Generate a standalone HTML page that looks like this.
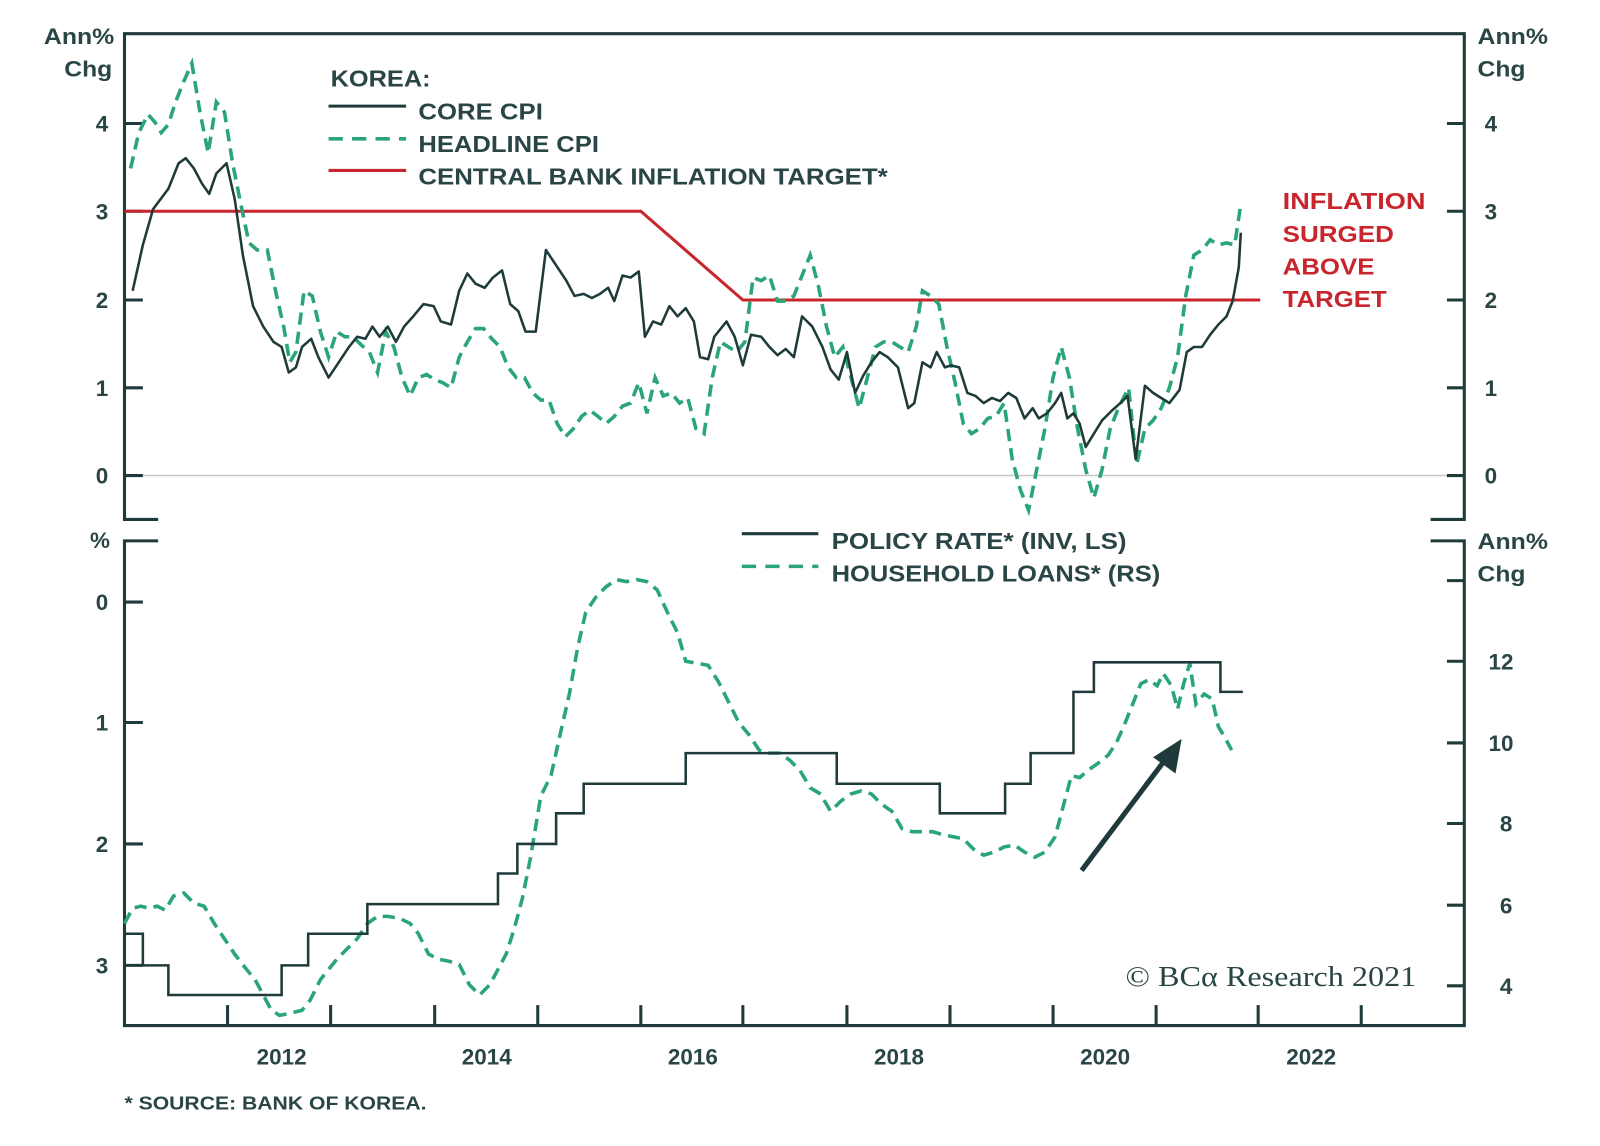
<!DOCTYPE html>
<html><head><meta charset="utf-8"><style>
html,body{margin:0;padding:0;background:#fff;}
svg{display:block;}
text{font-family:"Liberation Sans",sans-serif;font-weight:bold;fill:#2a4545;}
</style></head><body>
<svg width="1600" height="1146" viewBox="0 0 1568 1123" preserveAspectRatio="none" xmlns="http://www.w3.org/2000/svg">
<rect width="1568" height="1123" fill="#fff"/>
<line x1="122" y1="466" x2="1435" y2="466" stroke="#c8c8c8" stroke-width="1.5"/>
<g stroke="#1f3a3a" stroke-width="3" fill="none">
<polyline points="155,509 122,509 122,33 1435,33 1435,509 1402,509"/>
<polyline points="155,530 122,530 122,1005 1435,1005 1435,530 1402,530"/>
<path d="M122 121h18M122 207h18M122 294h18M122 380h18M122 466h18M1418 121h17M1418 207h17M1418 294h17M1418 380h17M1418 466h17"/>
<path d="M122 590h18M122 708h18M122 827h18M122 946h18M1418 569h17M1418 648h17M1418 728h17M1418 807h17M1418 887h17M1418 966h17"/>
<path d="M223 1005v-20M324 1005v-20M426 1005v-20M527 1005v-20M628 1005v-20M728 1005v-20M830 1005v-20M931 1005v-20M1032 1005v-20M1133 1005v-20M1233 1005v-20M1334 1005v-20"/>
</g>
<g font-size="22">
<text x="43" y="43" textLength="69" lengthAdjust="spacingAndGlyphs">Ann%</text><text x="63" y="75" textLength="47" lengthAdjust="spacingAndGlyphs">Chg</text>
<text x="1448" y="43" textLength="69" lengthAdjust="spacingAndGlyphs">Ann%</text><text x="1448" y="75" textLength="47" lengthAdjust="spacingAndGlyphs">Chg</text>
<text x="1448" y="538" textLength="69" lengthAdjust="spacingAndGlyphs">Ann%</text><text x="1448" y="570" textLength="47" lengthAdjust="spacingAndGlyphs">Chg</text>
<text x="98" y="537" text-anchor="middle">%</text>
<g text-anchor="middle">
<text x="100" y="129">4</text><text x="100" y="215">3</text><text x="100" y="302">2</text><text x="100" y="388">1</text><text x="100" y="474">0</text>
<text x="1461" y="129">4</text><text x="1461" y="215">3</text><text x="1461" y="302">2</text><text x="1461" y="388">1</text><text x="1461" y="474">0</text>
<text x="100" y="598">0</text><text x="100" y="716">1</text><text x="100" y="835">2</text><text x="100" y="954">3</text>
<text x="1471" y="656">12</text><text x="1471" y="736">10</text><text x="1476" y="815">8</text><text x="1476" y="895">6</text><text x="1476" y="974">4</text>
<text x="276" y="1043">2012</text><text x="477" y="1043">2014</text><text x="679" y="1043">2016</text><text x="881" y="1043">2018</text><text x="1083" y="1043">2020</text><text x="1285" y="1043">2022</text>
</g>
</g>
<g font-size="23" lengthAdjust="spacingAndGlyphs">
<text x="324" y="85" textLength="98" lengthAdjust="spacingAndGlyphs">KOREA:</text>
<text x="410" y="117" textLength="122" lengthAdjust="spacingAndGlyphs">CORE CPI</text>
<text x="410" y="149" textLength="177" lengthAdjust="spacingAndGlyphs">HEADLINE CPI</text>
<text x="410" y="181" textLength="460" lengthAdjust="spacingAndGlyphs">CENTRAL BANK INFLATION TARGET*</text>
<text x="815" y="538" textLength="289" lengthAdjust="spacingAndGlyphs">POLICY RATE* (INV, LS)</text>
<text x="815" y="570" textLength="322" lengthAdjust="spacingAndGlyphs">HOUSEHOLD LOANS* (RS)</text>
<text x="1257" y="205" textLength="140" lengthAdjust="spacingAndGlyphs" style="fill:#c8252d">INFLATION</text>
<text x="1257" y="237" textLength="109" lengthAdjust="spacingAndGlyphs" style="fill:#c8252d">SURGED</text>
<text x="1257" y="269" textLength="90" lengthAdjust="spacingAndGlyphs" style="fill:#c8252d">ABOVE</text>
<text x="1257" y="301" textLength="102" lengthAdjust="spacingAndGlyphs" style="fill:#c8252d">TARGET</text>
</g>
<line x1="322" y1="104" x2="398" y2="104" stroke="#1f3a3a" stroke-width="3"/>
<line x1="322" y1="136" x2="398" y2="136" stroke="#2aa578" stroke-width="3.5" stroke-dasharray="14,9"/>
<line x1="322" y1="167" x2="398" y2="167" stroke="#c8252d" stroke-width="3"/>
<line x1="727" y1="523" x2="802" y2="523" stroke="#1f3a3a" stroke-width="3"/>
<line x1="727" y1="555" x2="802" y2="555" stroke="#2aa578" stroke-width="3.5" stroke-dasharray="14,9"/>
<text x="122" y="1087" font-size="18" textLength="296" lengthAdjust="spacingAndGlyphs">* SOURCE: BANK OF KOREA.</text>
<text x="1103" y="966" font-size="28" textLength="285" lengthAdjust="spacingAndGlyphs" style="font-family:'Liberation Serif',serif;font-weight:normal;fill:#2a4545">© BCα Research 2021</text>
<polyline fill="none" stroke="#c8252d" stroke-width="3" points="122,207 628,207 728,294 1235,294"/>
<polyline fill="none" stroke="#2aa578" stroke-width="3.5" stroke-dasharray="12,7" points="128,165 136,130 145,112 152,120 158,130 165,122 172,100 180,80 188,62 196,110 204,150 212,100 220,110 228,160 236,200 244,238 252,245 262,245 270,285 278,320 284,355 290,345 298,285 306,290 314,325 322,350 330,325 338,330 346,330 354,338 362,345 370,365 378,325 386,340 394,370 402,388 410,370 418,367 426,372 434,375 442,380 450,350 458,335 466,322 474,322 482,332 490,340 498,360 506,370 514,370 522,385 530,392 538,392 546,415 554,428 562,420 570,408 578,402 586,408 594,415 602,408 610,398 618,395 626,375 634,405 642,370 650,388 658,385 666,395 674,390 682,420 690,425 698,370 706,335 714,340 722,345 730,335 738,272 746,275 754,270 762,295 770,295 778,290 786,270 794,250 802,280 810,320 818,350 826,340 834,370 842,400 850,370 858,340 866,335 874,335 882,340 890,345 898,320 904,285 912,290 920,298 928,340 936,375 944,415 952,425 960,420 968,410 976,408 984,395 992,450 1000,480 1008,500 1016,460 1024,420 1032,370 1040,340 1048,370 1056,420 1064,460 1072,488 1080,460 1088,420 1096,400 1106,380 1114,455 1122,420 1130,412 1138,400 1146,380 1154,350 1162,290 1170,250 1178,245 1186,235 1194,240 1202,238 1210,240 1216,200"/>
<polyline fill="none" stroke="#1f3a3a" stroke-width="2.5" stroke-linejoin="round" points="130,285 140,240 150,205 165,185 175,160 182,155 190,165 198,180 205,190 212,170 222,160 230,195 238,250 248,300 258,320 268,335 276,340 283,365 290,360 296,340 305,332 312,350 322,370 332,355 342,340 350,330 358,332 365,320 372,330 380,320 388,335 396,320 405,310 415,298 425,300 432,315 442,318 450,285 458,268 466,278 475,282 483,272 492,265 500,298 508,305 515,325 525,325 535,245 545,260 555,275 563,290 572,288 580,292 588,288 596,282 602,295 610,270 618,272 626,266 632,330 640,315 648,318 656,300 664,310 672,302 680,315 686,350 694,352 700,330 712,315 720,330 728,358 736,328 746,330 754,340 762,348 770,342 778,350 786,310 796,320 806,340 814,362 822,372 830,345 838,385 846,368 854,355 862,345 870,350 880,360 890,400 896,395 904,355 912,360 918,345 926,360 932,358 940,360 948,385 956,388 964,395 972,390 980,393 988,385 996,390 1004,410 1012,400 1018,410 1026,405 1034,395 1040,385 1046,410 1052,405 1058,415 1064,438 1072,425 1080,412 1090,402 1098,395 1105,388 1113,450 1122,378 1130,385 1138,390 1146,395 1156,382 1163,345 1170,340 1178,340 1186,328 1194,318 1202,310 1208,295 1214,262 1216,228"/>
<polyline fill="none" stroke="#2aa578" stroke-width="3.5" stroke-dasharray="12,7" points="122,905 130,890 138,888 146,890 154,888 162,892 170,878 180,875 190,885 200,888 210,905 220,920 230,935 240,948 250,960 258,975 266,990 274,995 284,993 296,990 304,980 314,960 322,950 330,940 340,930 350,920 360,905 370,898 380,898 392,900 402,905 410,915 420,935 430,940 440,942 450,945 460,965 470,975 480,965 488,950 496,935 504,910 512,880 520,840 530,780 540,760 550,715 558,680 566,635 574,600 584,585 594,575 604,568 614,570 624,568 634,570 644,578 654,600 664,620 672,648 684,650 694,652 704,668 714,688 724,708 734,720 744,735 754,738 764,738 774,745 784,755 794,772 804,778 814,795 824,785 834,778 844,775 854,778 864,788 874,795 884,812 894,815 904,815 914,815 924,818 934,820 944,822 954,832 964,838 974,835 984,830 994,828 1004,835 1014,840 1024,835 1034,820 1042,790 1050,760 1058,762 1066,755 1076,748 1086,740 1094,728 1102,710 1110,690 1118,670 1126,666 1134,672 1140,660 1148,672 1154,695 1160,670 1166,650 1172,690 1180,680 1188,685 1194,712 1200,722 1207,735"/>
<polyline fill="none" stroke="#1f3a3a" stroke-width="2.5" points="122,915 140,915 140,946 165,946 165,975 276,975 276,946 302,946 302,915 360,915 360,886 488,886 488,856 507,856 507,827 545,827 545,797 572,797 572,768 672,768 672,738 820,738 820,768 921,768 921,797 985,797 985,768 1010,768 1010,738 1052,738 1052,678 1072,678 1072,649 1196,649 1196,678 1218,678"/>
<line x1="1060" y1="853" x2="1143" y2="743" stroke="#1f3a3a" stroke-width="5"/>
<polygon points="1158,724 1130,742 1152,758" fill="#1f3a3a"/>
</svg>
</body></html>
